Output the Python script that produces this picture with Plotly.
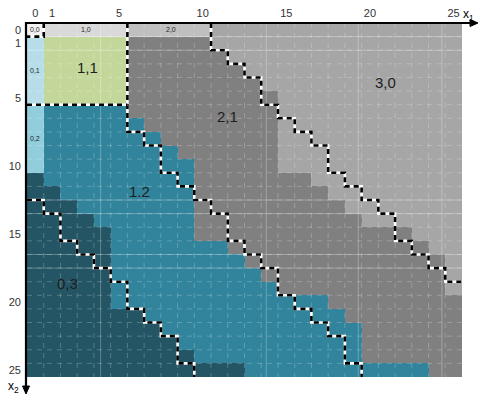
import plotly.graph_objects as go

# ---- grid of states (x1 across, x2 down) ----
N_X1 = 26
N_X2 = 26

region_names = ["0,0", "1,0", "2,0", "3,0", "0,1", "1,1", "2,1", "0,2", "1,2", "0,3"]
region_colors = ["#f2f2f2", "#d9d9d9", "#bfbfbf", "#a6a6a6", "#b7dee8",
                 "#c4d79b", "#808080", "#92cddc", "#31849b", "#245564"]

# region filling each band, per x2 row
left_region = ["0,0"] + ["0,1"] * 5 + ["0,2"] * 5 + ["0,3"] * 15
mid_region = ["1,0"] + ["1,1"] * 5 + ["1,2"] * 20
gray_region = ["2,0"] + ["2,1"] * 25
right_region = ["3,0"] * 26

# first x1 column of the middle band, per x2 row
mid_start = [1] * 11 + [1, 2, 3, 4, 5, 5, 5, 5, 5, 5, 7, 8, 9, 10, 13]
# first x1 column of the gray band, per x2 row
gray_start = [6, 6, 6, 6, 6, 6, 6, 7, 8, 9, 10, 10, 10, 10, 10, 10,
              12, 13, 14, 15, 18, 19, 20, 20, 20, 24]
# first x1 column of the light-gray band, per x2 row
right_start = [11, 11, 12, 13, 14, 15, 15, 15, 15, 15, 15, 17, 18, 19, 20,
               23, 24, 25, 25, 25, 26, 26, 26, 26, 26, 26]

# dashed policy boundaries: first x1 column on the far side, per x2 row
upper_step = [11, 11, 12, 13, 14, 14, 15, 16, 17, 18, 18, 19, 20, 21, 22,
              22, 23, 24, 25]                      # rows 0..18
lower_step = [6] * 8 + [7, 8, 8, 9, 10, 11, 12, 12, 13, 14, 15, 15, 16,
                        17, 18, 19, 19, 20]         # rows 0..25
bottom_step = [1, 2, 2, 3, 4, 5, 6, 6, 7, 8, 9, 9, 10]  # rows 13..25
BOTTOM_FIRST_ROW = 13

x1_ticks = [0, 1, 5, 10, 15, 20, 25]
x2_ticks = [0, 1, 5, 10, 15, 20, 25]

# region labels: (text, x1, x2, size)
region_labels = [
    ("0,0", 0, 0, 7), ("1,0", 3, 0, 7), ("2,0", 8.1, 0, 7),
    ("0,1", 0, 3, 7), ("0,2", 0, 8, 7),
    ("1,1", 3.1, 2.8, 15), ("1.2", 6.25, 11.9, 15), ("2,1", 11.5, 6.4, 15),
    ("3,0", 20.9, 3.9, 15), ("0,3", 1.9, 18.6, 15),
]

# ---- build the category matrix ----
idx = {n: i for i, n in enumerate(region_names)}
z = []
for r in range(N_X2):
    row = []
    for c in range(N_X1):
        if c < mid_start[r]:
            name = left_region[r]
        elif c < gray_start[r]:
            name = mid_region[r]
        elif c < right_start[r]:
            name = gray_region[r]
        else:
            name = right_region[r]
        row.append(idx[name])
    z.append(row)

n = len(region_colors)
colorscale = []
for i, col in enumerate(region_colors):
    colorscale.append([i / n, col])
    colorscale.append([(i + 1) / n, col])

fig = go.Figure()
fig.add_trace(go.Heatmap(
    z=z, x=list(range(N_X1)), y=list(range(N_X2)),
    colorscale=colorscale, zmin=-0.5, zmax=n - 0.5,
    showscale=False, hoverinfo="skip",
))

# faint sheet gridlines
gx, gy = [], []
for c in range(1, N_X1):
    gx += [c - 0.5, c - 0.5, None]
    gy += [-0.5, N_X2 - 0.5, None]
for r in range(1, N_X2):
    gx += [-0.5, N_X1 - 0.5, None]
    gy += [r - 0.5, r - 0.5, None]
fig.add_trace(go.Scatter(x=gx, y=gy, mode="lines", hoverinfo="skip",
                         line=dict(color="rgba(255,255,255,0.22)", width=1, dash="5px,5px")))
sx, sy = [], []
for r in [0.5, 1.5, 12.5, 13.5, 16.5, 17.5]:
    sx += [-0.5, N_X1 - 0.5, None]
    sy += [r, r, None]
for c in [3.9, 13.8, 19.3, 24.3]:
    sx += [c, c, None]
    sy += [-0.5, N_X2 - 0.5, None]
fig.add_trace(go.Scatter(x=sx, y=sy, mode="lines", hoverinfo="skip",
                         line=dict(color="rgba(255,255,255,0.28)", width=1)))


def staircase(first_row, cols):
    xs, ys = [], []
    for i, c in enumerate(cols):
        r = first_row + i
        xs += [c - 0.5, c - 0.5]
        ys += [r - 0.5, r + 0.5]
    return xs, ys


paths = []
ux, uy = staircase(0, upper_step)
ux.append(N_X1 - 0.5)
uy.append(len(upper_step) - 0.5)
paths.append((ux, uy))
paths.append(staircase(0, lower_step))
bx, by = staircase(BOTTOM_FIRST_ROW, bottom_step)
paths.append(([-0.5] + bx, [BOTTOM_FIRST_ROW - 0.5] + by))
paths.append(([-0.5, 5.5], [5.5, 5.5]))
paths.append(([0.5, 0.5, -0.5], [-0.5, 0.5, 0.5]))

for xs, ys in paths:
    fig.add_trace(go.Scatter(x=xs, y=ys, mode="lines", hoverinfo="skip",
                             cliponaxis=False,
                             line=dict(color="white", width=2.6)))
    fig.add_trace(go.Scatter(x=xs, y=ys, mode="lines", hoverinfo="skip",
                             cliponaxis=False,
                             line=dict(color="black", width=2.6, dash="5px,4px")))

for text, x, y, size in region_labels:
    fig.add_annotation(x=x, y=y, text=text, showarrow=False,
                       font=dict(size=size, color="#1e1e1e",
                                 family="Liberation Sans"))

# axis lines with arrowheads (pixel positions converted to paper units)
L, T, W_PLOT, H_PLOT = 27, 23, 435, 354


def px(X):
    return (X - L) / W_PLOT


def py(Y):
    return (T + H_PLOT - Y) / H_PLOT


shapes = [
    dict(type="line", xref="paper", yref="paper", x0=px(25.5), x1=px(472),
         y0=py(23), y1=py(23), line=dict(color="black", width=2.2)),
    dict(type="path", xref="paper", yref="paper", fillcolor="black",
         line=dict(color="black", width=1),
         path=f"M {px(470)} {py(19.5)} L {px(478)} {py(23)} L {px(470)} {py(26.5)} Z"),
    dict(type="line", xref="paper", yref="paper", x0=px(26), x1=px(26),
         y0=py(22), y1=py(388), line=dict(color="black", width=2.2)),
    dict(type="path", xref="paper", yref="paper", fillcolor="black",
         line=dict(color="black", width=1),
         path=f"M {px(22.5)} {py(386)} L {px(26)} {py(394)} L {px(29.5)} {py(386)} Z"),
]

fig.add_annotation(xref="paper", yref="paper", x=px(461), y=py(15),
                   xanchor="left", yanchor="middle", text="x<sub>1</sub>",
                   showarrow=False,
                   font=dict(size=12, color="black", family="Liberation Sans"))
fig.add_annotation(xref="paper", yref="paper", x=px(6), y=py(387),
                   xanchor="left", yanchor="middle", text="x<sub>2</sub>",
                   showarrow=False,
                   font=dict(size=12, color="black", family="Liberation Sans"))

fig.update_layout(
    width=479, height=395,
    margin=dict(l=L, r=479 - L - W_PLOT, t=T, b=395 - T - H_PLOT, autoexpand=False),
    paper_bgcolor="white", plot_bgcolor="white",
    showlegend=False,
    shapes=shapes,
    font=dict(family="Liberation Sans", size=11, color="#333333"),
    xaxis=dict(range=[-0.5, N_X1 - 0.5], side="top", tickvals=x1_ticks,
               showgrid=False, zeroline=False, showline=False, ticks="",
               ticklabelstandoff=3, automargin=False, fixedrange=True),
    yaxis=dict(range=[N_X2 - 0.5, -0.5], tickvals=x2_ticks,
               showgrid=False, zeroline=False, showline=False, ticks="",
               ticklabelstandoff=5, automargin=False, fixedrange=True),
)

fig.write_html("out.html")
